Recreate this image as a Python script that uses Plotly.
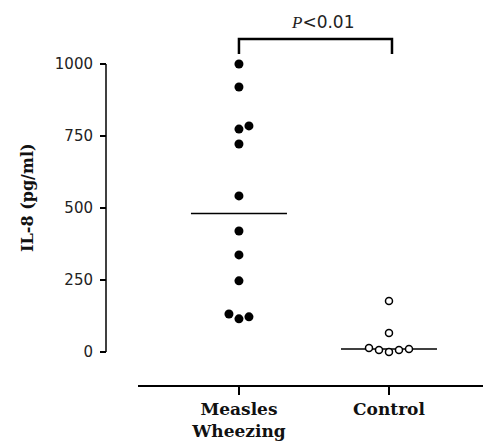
import numpy as np
import plotly.graph_objects as go

# ---- data ----
categories = ["Measles<br>Wheezing", "Control"]
measles_wheezing = [1000, 920, 785, 774, 722, 542, 420, 337, 247, 132, 115, 122]
control = [177, 66, 14, 7, 0, 7, 10]
y_ticks = [0, 250, 500, 750, 1000]
p_label = "<span style='font-family:Liberation Serif'><i>P</i></span>&lt;0.01"

# ---- layout geometry (page has an 8px body margin) ----
W, H = 483, 436
ML, MR, MT, MB = 98, 0, 0, 59
plot_w = W - ML - MR
plot_h = H - MT - MB
x_dom = [32 / plot_w, 1]
x_range = [-0.673, 1.68]
y_range = [-114.6, 1194.4]
px_per_x = plot_w * (x_dom[1] - x_dom[0]) / (x_range[1] - x_range[0])
px_per_y = plot_h / (y_range[1] - y_range[0])


def swarm(values, step_px=10, diam_px=9):
    """Simple beeswarm: place each point at the nearest free slot."""
    order = sorted(range(len(values)), key=lambda i: values[i])
    cands = [0]
    for n in range(1, 10):
        cands += [n, -n]
    placed, offs = [], [0.0] * len(values)
    for i in order:
        for c in cands:
            ok = True
            for pc, pv in placed:
                dx = (c - pc) * step_px
                dy = (values[i] - pv) * px_per_y
                if dx * dx + dy * dy < diam_px ** 2:
                    ok = False
                    break
            if ok:
                break
        placed.append((c, values[i]))
        offs[i] = c * step_px / px_per_x
    return offs


fig = go.Figure()

groups = [measles_wheezing, control]
half = 0.32
for ci, vals in enumerate(groups):
    med = float(np.median(vals))
    fig.add_trace(go.Scatter(x=[ci - half, ci + half], y=[med, med], mode="lines",
                             line=dict(color="black", width=1.5), hoverinfo="skip",
                             showlegend=False))

# Measles wheezing: filled
offs = swarm(measles_wheezing)
fig.add_trace(go.Scatter(x=[0 + o for o in offs], y=measles_wheezing, mode="markers",
                         marker=dict(size=9, color="black", line=dict(width=0)),
                         cliponaxis=False, showlegend=False))
# Control: open
offs = swarm(control, diam_px=8)
fig.add_trace(go.Scatter(x=[1 + o for o in offs], y=control, mode="markers",
                         marker=dict(size=7, color="white", line=dict(color="black", width=1.5)),
                         cliponaxis=False, showlegend=False))

# y-axis line only spanning 0..1000
fig.add_shape(type="line", xref="paper", x0=0, x1=0, yref="y", y0=0, y1=1000,
              line=dict(color="black", width=1.5))

# significance bracket
br_top, br_leg = 1087, 1035
fig.add_shape(type="path", xref="x", yref="y",
              path=f"M 0,{br_leg} L 0,{br_top} L 1.02,{br_top} L 1.02,{br_leg}",
              line=dict(color="black", width=2.5))
fig.add_annotation(x=0.56, y=1146, xref="x", yref="y", text=p_label, showarrow=False,
                   xanchor="center", yanchor="middle",
                   font=dict(family="DejaVu Sans", size=17, color="#222"))

# y title
fig.add_annotation(x=-(ML - 20) / plot_w, y=535, xref="paper", yref="y",
                   xanchor="center", yanchor="middle",
                   text="<b>IL-8 (pg/ml)</b>", textangle=-90, showarrow=False,
                   font=dict(family="DejaVu Serif", size=16, color="#111"))

fig.update_layout(
    width=W, height=H,
    margin=dict(l=ML, r=MR, t=MT, b=MB, pad=0),
    plot_bgcolor="white", paper_bgcolor="white",
    xaxis=dict(domain=x_dom, range=x_range, tickvals=[0, 1],
               ticktext=[f"<b>{c}</b>" for c in categories],
               showline=True, linecolor="black", linewidth=1.5,
               ticks="outside", ticklen=8, tickwidth=2, tickcolor="black",
               showgrid=False, zeroline=False,
               tickfont=dict(family="DejaVu Serif", size=17, color="#111")),
    yaxis=dict(anchor="free", position=0, range=y_range, tickvals=y_ticks,
               showline=False, ticks="outside", ticklen=6, tickwidth=1.5, tickcolor="black",
               showgrid=False, zeroline=False, ticklabelstandoff=4,
               tickfont=dict(family="DejaVu Sans", size=15, color="#222")),
)

fig.write_html("out.html")
